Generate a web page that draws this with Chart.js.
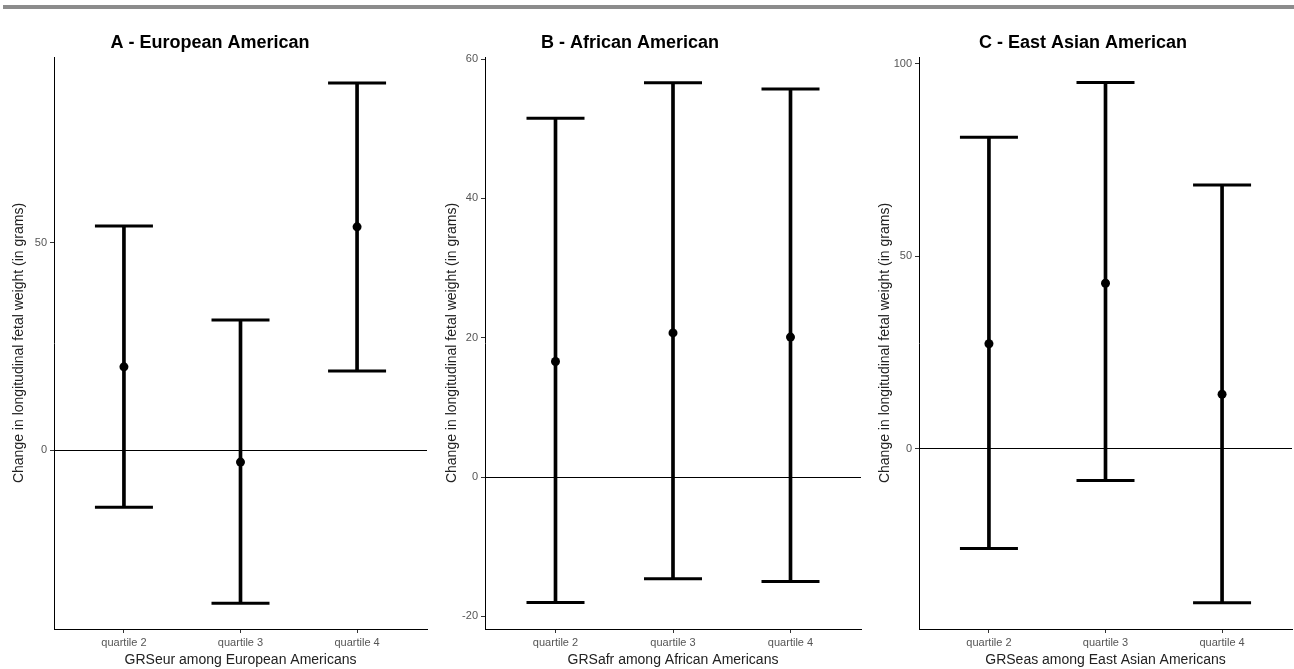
<!DOCTYPE html>
<html>
<head>
<meta charset="utf-8">
<script src="https://cdn.jsdelivr.net/npm/chart.js@4.4.1/dist/chart.umd.min.js"></script>
<style>
  html, body { margin: 0; padding: 0; background: #fff; overflow: hidden; width: 1294px; height: 669px; position: relative; }
  .topbar { position: absolute; left: 3px; right: 0; top: 5px; height: 4px; background: #8c8c8c; }
  canvas { position: absolute; top: 0; }
</style>
</head>
<body>
<div class="topbar"></div>
<!-- canvases are a bit wider than the panels: the wide cap markers reserve 32px on the right -->
<canvas id="chartA" width="479" height="669" style="left:-20px"></canvas>
<canvas id="chartB" width="513" height="669" style="left:380px"></canvas>
<canvas id="chartC" width="462" height="669" style="left:862px"></canvas>
<script>
//////// data ////////////////////////////////////////////////////////////
const categories = ["quartile 2", "quartile 3", "quartile 4"];

// A - European American
const eurMean = [20.1, -2.9, 53.9];
const eurLower = [-13.8, -37.0, 19.1];
const eurUpper = [54.1, 31.4, 88.6];
const eurTicks = [0, 50];

// B - African American
const afrMean = [16.6, 20.7, 20.1];
const afrLower = [-18.0, -14.6, -15.0];
const afrUpper = [51.5, 56.6, 55.7];
const afrTicks = [-20, 0, 20, 40, 60];

// C - East Asian American
const easMean = [27.3, 43.0, 14.2];
const easLower = [-25.8, -8.2, -39.9];
const easUpper = [80.9, 95.1, 68.5];
const easTicks = [0, 50, 100];

const yLabel = "Change in longitudinal fetal weight (in grams)";
const fontFamily = "'Liberation Sans', Arial, Helvetica, sans-serif";

//////// one panel ///////////////////////////////////////////////////////
function makePanel(id, p) {
  const whiskers = categories.map((c, i) => ({ x: i + 1, y: [p.lower[i], p.upper[i]] }));
  const caps = [];
  categories.forEach((c, i) => {
    caps.push({ x: i + 1, y: p.lower[i] });
    caps.push({ x: i + 1, y: p.upper[i] });
  });
  const points = categories.map((c, i) => ({ x: i + 1, y: p.mean[i] }));

  return new Chart(document.getElementById(id), {
    type: "bar",
    data: {
      datasets: [
        { data: whiskers, backgroundColor: "#000", barThickness: 3, borderWidth: 0, order: 3 },
        { type: "scatter", data: caps, pointStyle: "line", pointRadius: 29, pointBorderWidth: 3, pointBorderColor: "#000", order: 2 },
        { type: "scatter", data: points, pointStyle: "circle", pointRadius: 4.5, pointBackgroundColor: "#000", pointBorderWidth: 0, order: 1 },
      ],
    },
    options: {
      responsive: false,
      animation: false,
      events: [],
      layout: { padding: { top: 30, bottom: 0, left: p.padLeft, right: 32 } },
      plugins: {
        legend: { display: false },
        tooltip: { enabled: false },
        title: {
          display: true,
          text: p.title,
          color: "#000",
          font: { family: fontFamily, size: 18, weight: "bold" },
          padding: { top: 2.7, bottom: 2.7 },
        },
      },
      scales: {
        x: {
          type: "linear",
          offset: false,
          min: 0.4,
          max: 3.6,
          afterBuildTicks: (s) => { s.ticks = categories.map((c, i) => ({ value: i + 1 })); },
          afterFit: (s) => { s.height = 40; },
          ticks: {
            autoSkip: false,
            maxRotation: 0,
            padding: 3,
            color: "#555",
            font: { family: fontFamily, size: 11 },
            callback: (v) => categories[v - 1],
          },
          grid: { offset: false, drawOnChartArea: false, drawTicks: true, tickLength: 4, tickColor: "#333" },
          border: { display: true, color: "#000", width: 1 },
          title: {
            display: true,
            text: p.xTitle,
            color: "#222",
            font: { family: fontFamily, size: 14 },
            padding: { top: 0, bottom: 0.6 },
          },
        },
        y: {
          min: p.yMin,
          max: p.yMax,
          afterBuildTicks: (s) => { s.ticks = p.ticks.map((v) => ({ value: v })); },
          afterFit: (s) => { s.width = p.yWidth; },
          ticks: { padding: 3, color: "#555", font: { family: fontFamily, size: 11 } },
          // only the zero line is drawn across the panel
          grid: {
            color: (ctx) => (ctx.tick && ctx.tick.value === 0 ? "#000" : "rgba(0,0,0,0)"),
            lineWidth: 1,
            drawTicks: true,
            tickLength: 4,
            tickColor: "#333",
          },
          border: { display: true, color: "#000", width: 1 },
          title: {
            display: true,
            text: yLabel,
            color: "#222",
            font: { family: fontFamily, size: 14 },
            padding: { top: p.yTitlePad, bottom: 0 },
          },
        },
      },
    },
  });
}

makePanel("chartA", {
  title: "A - European American",
  xTitle: "GRSeur among European Americans",
  mean: eurMean, lower: eurLower, upper: eurUpper, ticks: eurTicks,
  yMin: -43.2, yMax: 94.9,
  padLeft: 13, yWidth: 61, yTitlePad: 17.6,
});

makePanel("chartB", {
  title: "B - African American",
  xTitle: "GRSafr among African Americans",
  mean: afrMean, lower: afrLower, upper: afrUpper, ticks: afrTicks,
  yMin: -21.8, yMax: 60.3,
  padLeft: 19, yWidth: 86, yTitlePad: 44.6,
});

makePanel("chartC", {
  title: "C - East Asian American",
  xTitle: "GRSeas among East Asian Americans",
  mean: easMean, lower: easLower, upper: easUpper, ticks: easTicks,
  yMin: -46.7, yMax: 101.7,
  padLeft: 12, yWidth: 45, yTitlePad: 2.6,
});
</script>
</body>
</html>
